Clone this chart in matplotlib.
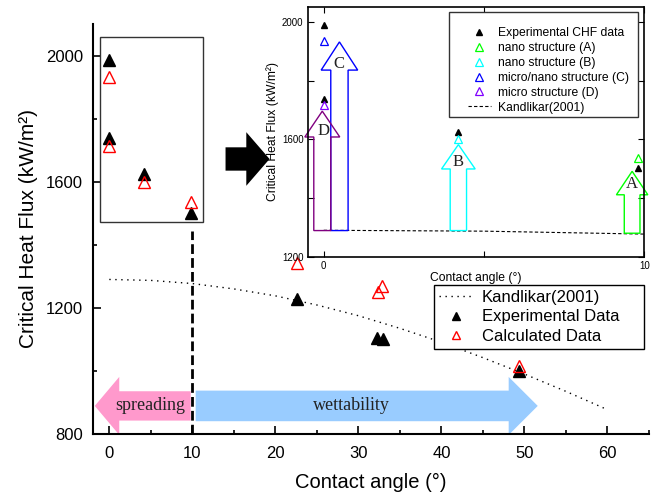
import matplotlib
matplotlib.use('Agg')
import matplotlib.pyplot as plt
from matplotlib.patches import FancyArrow, Rectangle
from matplotlib.ticker import MultipleLocator

plt.rcParams['font.family'] = ['Liberation Sans', 'DejaVu Sans']

# Kandlikar(2001) curve
kand_angle = [0, 5, 10, 15, 20, 25, 30, 35, 40, 45, 50, 55, 60]
kand_chf = [1290, 1287, 1277, 1260, 1238, 1209, 1175, 1135, 1091, 1042, 990, 935, 877]

# main plot points
exp_angle = [22.6, 32.3, 33.0, 49.3]
exp_chf = [1229, 1104, 1101, 1001]
calc_angle = [22.6, 32.4, 32.9, 49.3]
calc_chf = [1342, 1250, 1268, 1014]

# points inside the zoom box (contact angle < 10)
box_exp_angle = [0, 0, 4.2, 9.8]
box_exp_chf = [1987, 1737, 1625, 1502]
box_calc_angle = [0, 0, 4.2, 9.8]
box_calc_chf = [1933, 1714, 1600, 1537]

# inset
ins_exp_angle = [0, 0, 4.2, 9.8]
ins_exp_chf = [1989, 1736, 1624, 1502]
struct_names = ['nano structure (A)', 'nano structure (B)',
                'micro/nano structure (C)', 'micro structure (D)']
struct_angle = [9.8, 4.2, 0, 0]
struct_chf = [1536, 1602, 1934, 1718]
struct_colors = ['#00ff00', '#00ffff', '#0000ff', '#8000ff']

# inset arrows: letter, x, base, tip, head base, body width, head width, colour, letter x, letter y
ins_arrows = [
    ('A', 9.62, 1280, 1491, 1411, 0.49, 0.98, '#00ff00', 9.61, 1447),
    ('B', 4.20, 1289, 1582, 1499, 0.51, 1.05, '#00ffff', 4.20, 1523),
    ('C', 0.49, 1289, 1932, 1836, 0.54, 1.14, '#0000ff', 0.47, 1856),
    ('D', -0.045, 1289, 1696, 1608, 0.53, 1.09, '#800080', -0.02, 1627),
]

fig = plt.figure(figsize=(6.63, 4.94), dpi=100)
ax = fig.add_axes([0.1398, 0.1215, 0.8391, 0.8299])

# zoom box
ax.add_patch(Rectangle((-1.14, 1473), 12.44, 587, fc='white', ec='#333333', lw=1, zorder=2))
ax.plot([10, 10], [800, 1445], color='k', lw=2, dashes=(3.5, 1.5), zorder=3)

# spreading / wettability arrows
ax.add_patch(FancyArrow(9.8, 889, -11.55, 0, width=93, head_width=184, head_length=2.95,
                        length_includes_head=True, fc='#ff99cc', ec='none', zorder=1, clip_on=False))
ax.add_patch(FancyArrow(10.4, 889, 41.2, 0, width=97, head_width=184, head_length=3.5,
                        length_includes_head=True, fc='#99ccff', ec='none', zorder=1, clip_on=False))
ax.text(4.9, 889, 'spreading', family='Liberation Serif', fontsize=13, color='#222222',
        ha='center', va='center', zorder=4)
ax.text(29.2, 889, 'wettability', family='Liberation Serif', fontsize=13, color='#222222',
        ha='center', va='center', zorder=4)

# black arrow pointing to the inset
ax.add_patch(FancyArrow(14.0, 1672, 5.3, 0, width=74, head_width=170, head_length=2.8,
                        length_includes_head=True, fc='k', ec='none', zorder=2, clip_on=False))

kl, = ax.plot(kand_angle, kand_chf, color='k', lw=1, dashes=(1, 3.3), label='Kandlikar(2001)', zorder=2)
el, = ax.plot(exp_angle + box_exp_angle, exp_chf + box_exp_chf, '^', color='k', ms=8,
              ls='none', label='Experimental Data', zorder=5)
cl, = ax.plot(calc_angle + box_calc_angle, calc_chf + box_calc_chf, '^', mfc='none', mec='red',
              mew=1, ms=8, ls='none', label='Calculated Data', zorder=5)

ax.set_xlim(-2, 65)
ax.set_ylim(800, 2100)
ax.xaxis.set_major_locator(MultipleLocator(10))
ax.xaxis.set_minor_locator(MultipleLocator(5))
ax.set_yticks([800, 1200, 1600, 2000])
ax.yaxis.set_minor_locator(MultipleLocator(200))
for s in ['top', 'right']:
    ax.spines[s].set_visible(False)
for s in ['left', 'bottom']:
    ax.spines[s].set_linewidth(1.5)
ax.tick_params(which='both', direction='in', width=1.2, labelsize=12)
ax.tick_params(which='major', length=6)
ax.tick_params(which='minor', length=3)
ax.tick_params(axis='y', pad=7)
ax.tick_params(axis='x', pad=9)
ax.set_xlabel('Contact angle (°)', fontsize=14.5, labelpad=8)
ax.set_ylabel('Critical Heat Flux (kW/m²)', fontsize=15, labelpad=6)

leg = ax.legend(handles=[kl, el, cl], loc='lower center', bbox_to_anchor=(0.654, 0.2935, 0.317, 0.1316),
                bbox_transform=fig.transFigure, mode='expand', fontsize=12, frameon=True,
                fancybox=False, edgecolor='k', framealpha=1, borderpad=0.3, labelspacing=0.28,
                handlelength=2.1, handletextpad=0.5, borderaxespad=0, markerscale=0.8)
leg.get_frame().set_linewidth(1)
leg.set_zorder(6)

# inset
ins = fig.add_axes([0.4641, 0.4804, 0.5077, 0.5048])
ins.set_zorder(7)
ikl, = ins.plot(kand_angle[:3], kand_chf[:3], color='k', lw=0.8, dashes=(3, 2), label='Kandlikar(2001)', zorder=1)
for letter, x, base, tip, hbase, bw, hw, col, lx, ly in ins_arrows:
    ins.add_patch(FancyArrow(x, base, 0, tip - base, width=bw, head_width=hw, head_length=tip - hbase,
                             length_includes_head=True, fill=False, ec=col, lw=1, zorder=2, clip_on=False))
    ins.text(lx, ly, letter, family='Liberation Serif', fontsize=12,
             color='#222222', ha='center', va='center', zorder=3)

iel, = ins.plot(ins_exp_angle, ins_exp_chf, '^', color='k', ms=5, ls='none',
                label='Experimental CHF data', zorder=4)
handles = [iel]
for name, x, y, col in zip(struct_names, struct_angle, struct_chf, struct_colors):
    h, = ins.plot([x], [y], '^', mfc='none', mec=col, mew=0.9, ms=5.5, ls='none', label=name, zorder=4)
    handles.append(h)
handles.append(ikl)

ins.set_xlim(-0.5, 10)
ins.set_ylim(1200, 2050)
ins.set_xticks([0, 10])
ins.xaxis.set_minor_locator(MultipleLocator(5))
ins.set_yticks([1200, 1600, 2000])
ins.yaxis.set_minor_locator(MultipleLocator(200))
for s in ins.spines.values():
    s.set_linewidth(1.2)
ins.tick_params(which='both', direction='in', top=True, right=True, labelsize=7, width=0.8)
ins.tick_params(which='major', length=4)
ins.tick_params(which='minor', length=4)
ins.tick_params(axis='x', pad=3)
ins.tick_params(axis='y', pad=3)
ins.set_xlabel('Contact angle (°)', fontsize=8.7, labelpad=1)
ins.set_ylabel('Critical Heat Flux (kW/m²)', fontsize=8.7, labelpad=2)

# inset legend: separate frame so the padding matches the original
ins.add_patch(Rectangle((0.6777, 0.7638), 0.2851, 0.2113, transform=fig.transFigure,
                        fc='white', ec='#333333', lw=1, zorder=4.9, clip_on=False))
ileg = ins.legend(handles=handles, loc='upper left', bbox_to_anchor=(0.7059, 0.9451),
                  bbox_transform=fig.transFigure, fontsize=8.7, frameon=False,
                  borderpad=0, labelspacing=0.24, handlelength=1.9, handletextpad=0.55,
                  borderaxespad=0)

fig.savefig('out.png', dpi=100)
